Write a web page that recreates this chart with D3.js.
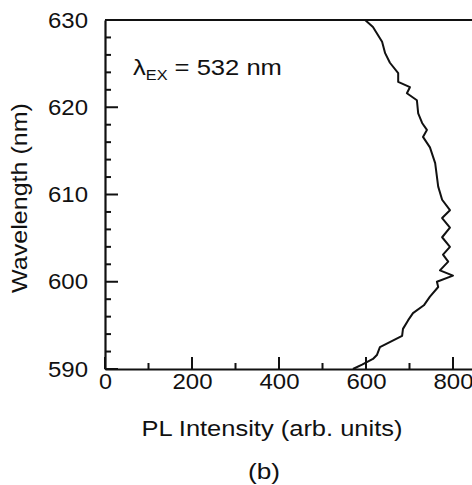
<!DOCTYPE html>
<html>
<head>
<meta charset="utf-8">
<script src="https://cdn.jsdelivr.net/npm/d3@7"></script>
<style>
  body { margin: 0; background: #fff; }
  text { font-family: "Liberation Sans", Arial, sans-serif; fill: #111; }
</style>
</head>
<body>
<svg id="chart" width="472" height="485"></svg>
<script>
// PL spectrum, wavelength (nm) vs intensity (arb. units)
var wavelengths = [590.0, 590.5, 591.15, 591.6, 592.5, 593.8, 594.6, 595.6, 596.4, 597.3,
                   598.3, 599.4, 600.0, 600.7, 601.3, 602.3, 603.1, 604.0, 605.1, 606.2,
                   607.3, 608.2, 609.4, 610.9, 613.6, 615.4, 616.6, 617.4, 618.2, 619.3,
                   620.8, 621.6, 622.3, 622.9, 623.9, 625.1, 626.2, 627.5, 629.2, 630.0];
var intensity = [570, 591, 616, 625, 632, 683, 685, 697, 708, 733,
                 747, 766, 763, 800, 770, 789, 777, 793, 775, 793,
                 775, 793, 775, 766, 759, 747, 731, 740, 729, 720,
                 717, 694, 701, 674, 674, 655, 644, 637, 616, 598];

var xTicks = [0, 200, 400, 600, 800, 1000];
var xMinor = [100, 300, 500, 700, 900];
var yTicks = [590, 600, 610, 620, 630];
var yMinor = [592, 594, 596, 598, 602, 604, 606, 608, 612, 614, 616, 618, 622, 624, 626, 628];

var svg = d3.select("#chart");
var ink = "#111";

// the plot frame runs past the right edge of the picture
var x = d3.scaleLinear().domain([0, 1000]).range([105, 540]);
var y = d3.scaleLinear().domain([590, 630]).range([369, 20]);

// tick marks point inwards
var ticks = svg.append("g").attr("stroke", ink).attr("stroke-width", 2);
ticks.selectAll(".xt")
    .data(xTicks.map(function(v) { return [v, 12]; }).concat(xMinor.map(function(v) { return [v, 6]; })))
    .join("line")
    .attr("x1", function(d) { return x(d[0]); })
    .attr("x2", function(d) { return x(d[0]); })
    .attr("y1", y(590))
    .attr("y2", function(d) { return y(590) - d[1]; });
ticks.selectAll(".yt")
    .data(yTicks.map(function(v) { return [v, 13]; }).concat(yMinor.map(function(v) { return [v, 6]; })))
    .join("line")
    .attr("x1", x(0))
    .attr("x2", function(d) { return x(0) + d[1]; })
    .attr("y1", function(d) { return y(d[0]); })
    .attr("y2", function(d) { return y(d[0]); });

// axes carry the frame and the numbers
var xAxis = svg.append("g")
    .attr("transform", "translate(0,369)")
    .call(d3.axisBottom(x).tickValues(xTicks).tickSize(0).tickPadding(4));
var yAxis = svg.append("g")
    .attr("transform", "translate(105,0)")
    .call(d3.axisLeft(y).tickValues(yTicks).tickSize(0).tickPadding(17));

[xAxis, yAxis].forEach(function(g) {
    g.selectAll("text")
        .attr("font-size", 22)
        .attr("font-family", "Liberation Sans, Arial, sans-serif")
        .attr("fill", ink)
        .attr("textLength", 40)
        .attr("lengthAdjust", "spacingAndGlyphs");
    g.select(".domain").attr("stroke", ink).attr("stroke-width", 2.2);
});
xAxis.selectAll(".tick text").filter(function(d) { return d === 0; }).attr("textLength", 13);

// top frame line
svg.append("line")
    .attr("x1", x(0)).attr("x2", x(1000))
    .attr("y1", y(630)).attr("y2", y(630))
    .attr("stroke", ink).attr("stroke-width", 2.2);

// spectrum
var pts = wavelengths.map(function(w, i) { return [intensity[i], w]; });
svg.append("path")
    .datum(pts)
    .attr("fill", "none")
    .attr("stroke", ink)
    .attr("stroke-width", 2)
    .attr("stroke-linejoin", "round")
    .attr("d", d3.line().x(function(d) { return x(d[0]); }).y(function(d) { return y(d[1]); }));

// stretch a text horizontally so it spans the width seen in the picture
function stretched(px, py, rot, width, anchor, build)
{
    var g = svg.append("g");
    var t = g.append("text").attr("font-size", 22).attr("text-anchor", anchor);
    build(t);
    var w = t.node().getComputedTextLength();
    g.attr("transform", "translate(" + px + "," + py + ") rotate(" + rot + ") scale(" + (width / w) + ",1)");
    return g;
}

// annotation
stretched(133, 75, 0, 149, "start", function(t) {
    t.append("tspan").text("\u03bb");
    t.append("tspan").attr("font-size", 14).attr("dy", 5).text("EX");
    t.append("tspan").attr("dy", -5).text(" = 532 nm");
});

// axis titles
stretched(272, 436, 0, 261, "middle", function(t) { t.text("PL Intensity (arb. units)"); });
stretched(27, 198, -90, 190, "middle", function(t) { t.text("Wavelength (nm)"); });
stretched(264, 479, 0, 32, "middle", function(t) { t.text("(b)"); });
</script>
</body>
</html>
